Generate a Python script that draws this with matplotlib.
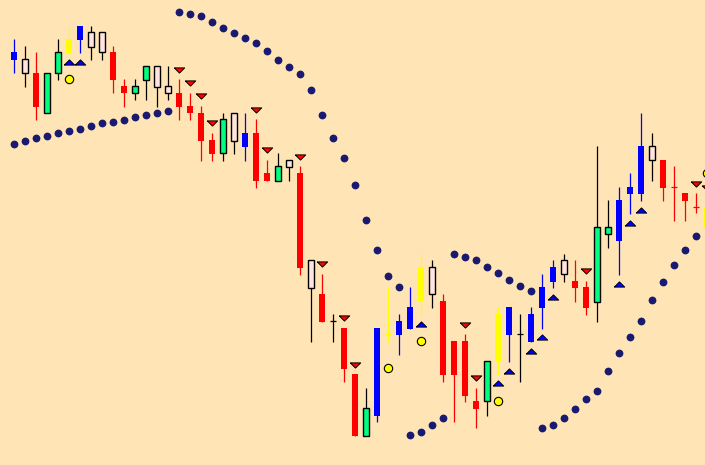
import numpy as np
import matplotlib
matplotlib.use("Agg")
from matplotlib import pyplot as plt

# candle colour codes: r=red, b=blue, y=yellow, p=pink (white-ish), g=green
kinds = list("bprggybpp" "rrggpp" "rrrrgpb" "rrgp" "rprp" "rrgb" "ybbyp"
             "rrrrgybpbbbp" "rrggbbbp" "rrrry")
highs = [426, 419, 413, 392, 426, 439, 439, 439, 433, 419, 386, 386, 399, 399, 399, 386,
         372, 359, 332, 352, 352, 352, 346, 305, 312, 305, 299, 205, 191, 151, 137, 91,
         77, 137, 178, 151, 178, 211, 205, 171, 124, 131, 77, 104, 158, 158, 151, 158,
         191, 205, 211, 205, 184, 319, 265, 278, 292, 352, 332, 305, 299, 272, 272, 265]
tops = [413, 406, 392, 392, 413, 426, 439, 433, 433, 413, 379, 379, 399, 399, 379, 372,
        359, 352, 325, 346, 352, 332, 332, 292, 299, 305, 292, 205, 171, 144, 137, 91,
        57, 137, 131, 144, 158, 198, 198, 164, 124, 124, 64, 104, 151, 158, 131, 151,
        178, 198, 205, 184, 178, 238, 238, 265, 278, 319, 319, 305, 278, 272, 258, 258]
bottoms = [405, 392, 358, 352, 392, 412, 425, 418, 413, 385, 372, 372, 385, 378, 372, 358,
           352, 324, 311, 312, 324, 318, 284, 284, 284, 298, 197, 177, 143, 144, 96, 29,
           29, 49, 131, 130, 136, 164, 171, 90, 90, 69, 56, 64, 104, 130, 131, 123,
           157, 183, 191, 177, 157, 163, 231, 224, 271, 271, 305, 277, 278, 264, 258, 237]
lows = [392, 378, 345, 352, 385, 412, 412, 405, 405, 372, 358, 365, 365, 358, 365, 345,
        345, 304, 304, 304, 311, 304, 277, 284, 284, 284, 190, 123, 143, 123, 83, 29,
        29, 43, 123, 110, 136, 150, 157, 83, 43, 63, 37, 49, 90, 103, 83, 123,
        136, 177, 183, 163, 150, 143, 217, 190, 251, 264, 284, 264, 244, 244, 252, 233]

# parabolic SAR (nan where the side switches)
sar_low1 = [321, 324, 327, 329, 332, 334, 336, 339, 342, 343, 345, 348, 350, 352, 354]
sar_high1 = [453, 451, 449, 443, 437, 432, 427, 422, 414, 405, 398, 391, 375, 350, 327,
             307, 280, 245, 215, 189, 178]
sar_low2 = [30, 33, 40, 47]
sar_high2 = [211, 208, 205, 198, 192, 185, 179, 174]
sar_low3 = [37, 40, 47, 56, 66, 74, 94, 112, 128, 144, 165, 183, 200, 215, 229]
sar = sar_low1 + sar_high1 + sar_low2 + sar_high2 + sar_low3 + [np.nan]

# signal markers: candle index -> level
up_idx = [5, 6, 37, 44, 45, 47, 48, 49, 55, 56, 57]
up_val = [403, 403, 141, 82, 94, 114, 128, 168, 181, 242, 255]
dn_idx = [15, 16, 17, 18, 22, 23, 26, 28, 30, 31, 41, 42, 52, 62, 63]
dn_val = [395, 382, 369, 342, 355, 315, 308, 201, 147, 100, 140, 87, 194, 281, 277]
dot_idx = [5, 34, 37, 44, 63]
dot_val = [386, 97, 124, 64, 292]

body_col = {"r": "#ff0000", "b": "#0000ff", "y": "#ffff00", "p": "#ffe4e1", "g": "#00ff7f"}
wick_col = {"r": "#ff0000", "b": "#0000ff", "y": "#ffff00", "p": "black", "g": "black"}
bg = "#ffe4b5"

fig = plt.figure(figsize=(7.05, 4.65), dpi=100, facecolor=bg)
ax = fig.add_axes([0, 0, 1, 1])
ax.set_facecolor(bg)

x = np.arange(len(kinds))
hi = np.array(highs)
lo = np.array(lows)
tp = np.array(tops)
bt = np.array(bottoms)

# wicks
ax.vlines(x, lo, hi, colors=[wick_col[k] for k in kinds], linewidth=0.9, zorder=1)

# bodies
w = 0.62
for k in body_col:
    m = np.array([(kk == k) and (t != b) for kk, t, b in zip(kinds, tops, bottoms)])
    if not m.any():
        continue
    edge = "black" if k in "pg" else "none"
    ax.bar(x[m], tp[m] - bt[m], bottom=bt[m], width=w, color=body_col[k],
           edgecolor=edge, linewidth=1.0 if edge != "none" else 0, zorder=2)
# doji crosses
flat = tp == bt
ax.hlines(tp[flat], x[flat] - w / 2, x[flat] + w / 2,
          colors=[wick_col[k] for k, f in zip(kinds, flat) if f], linewidth=0.9, zorder=2)

# SAR dots
ax.plot(x, sar, "o", color="#191970", markersize=4.6, linestyle="none", zorder=3)

# arrows
up_tri = [(-1, -0.5), (1, -0.5), (0, 0.5), (-1, -0.5)]
dn_tri = [(-1, 0.5), (1, 0.5), (0, -0.5), (-1, 0.5)]
ax.plot(up_idx, up_val, marker=up_tri, color="#0000ff", markeredgecolor="black",
        markeredgewidth=0.7, markersize=7.5, linestyle="none", zorder=4)
ax.plot(dn_idx, dn_val, marker=dn_tri, color="#ff0000", markeredgecolor="black",
        markeredgewidth=0.7, markersize=7.5, linestyle="none", zorder=4)
ax.plot(dot_idx, dot_val, "o", color="#ffff00", markeredgecolor="black",
        markeredgewidth=0.8, markersize=6.0, linestyle="none", zorder=4)

ax.set_xlim(-14 / 11, 691 / 11)
ax.set_ylim(0, 465)
ax.axis("off")

fig.savefig("out.png", dpi=100, facecolor=bg)
